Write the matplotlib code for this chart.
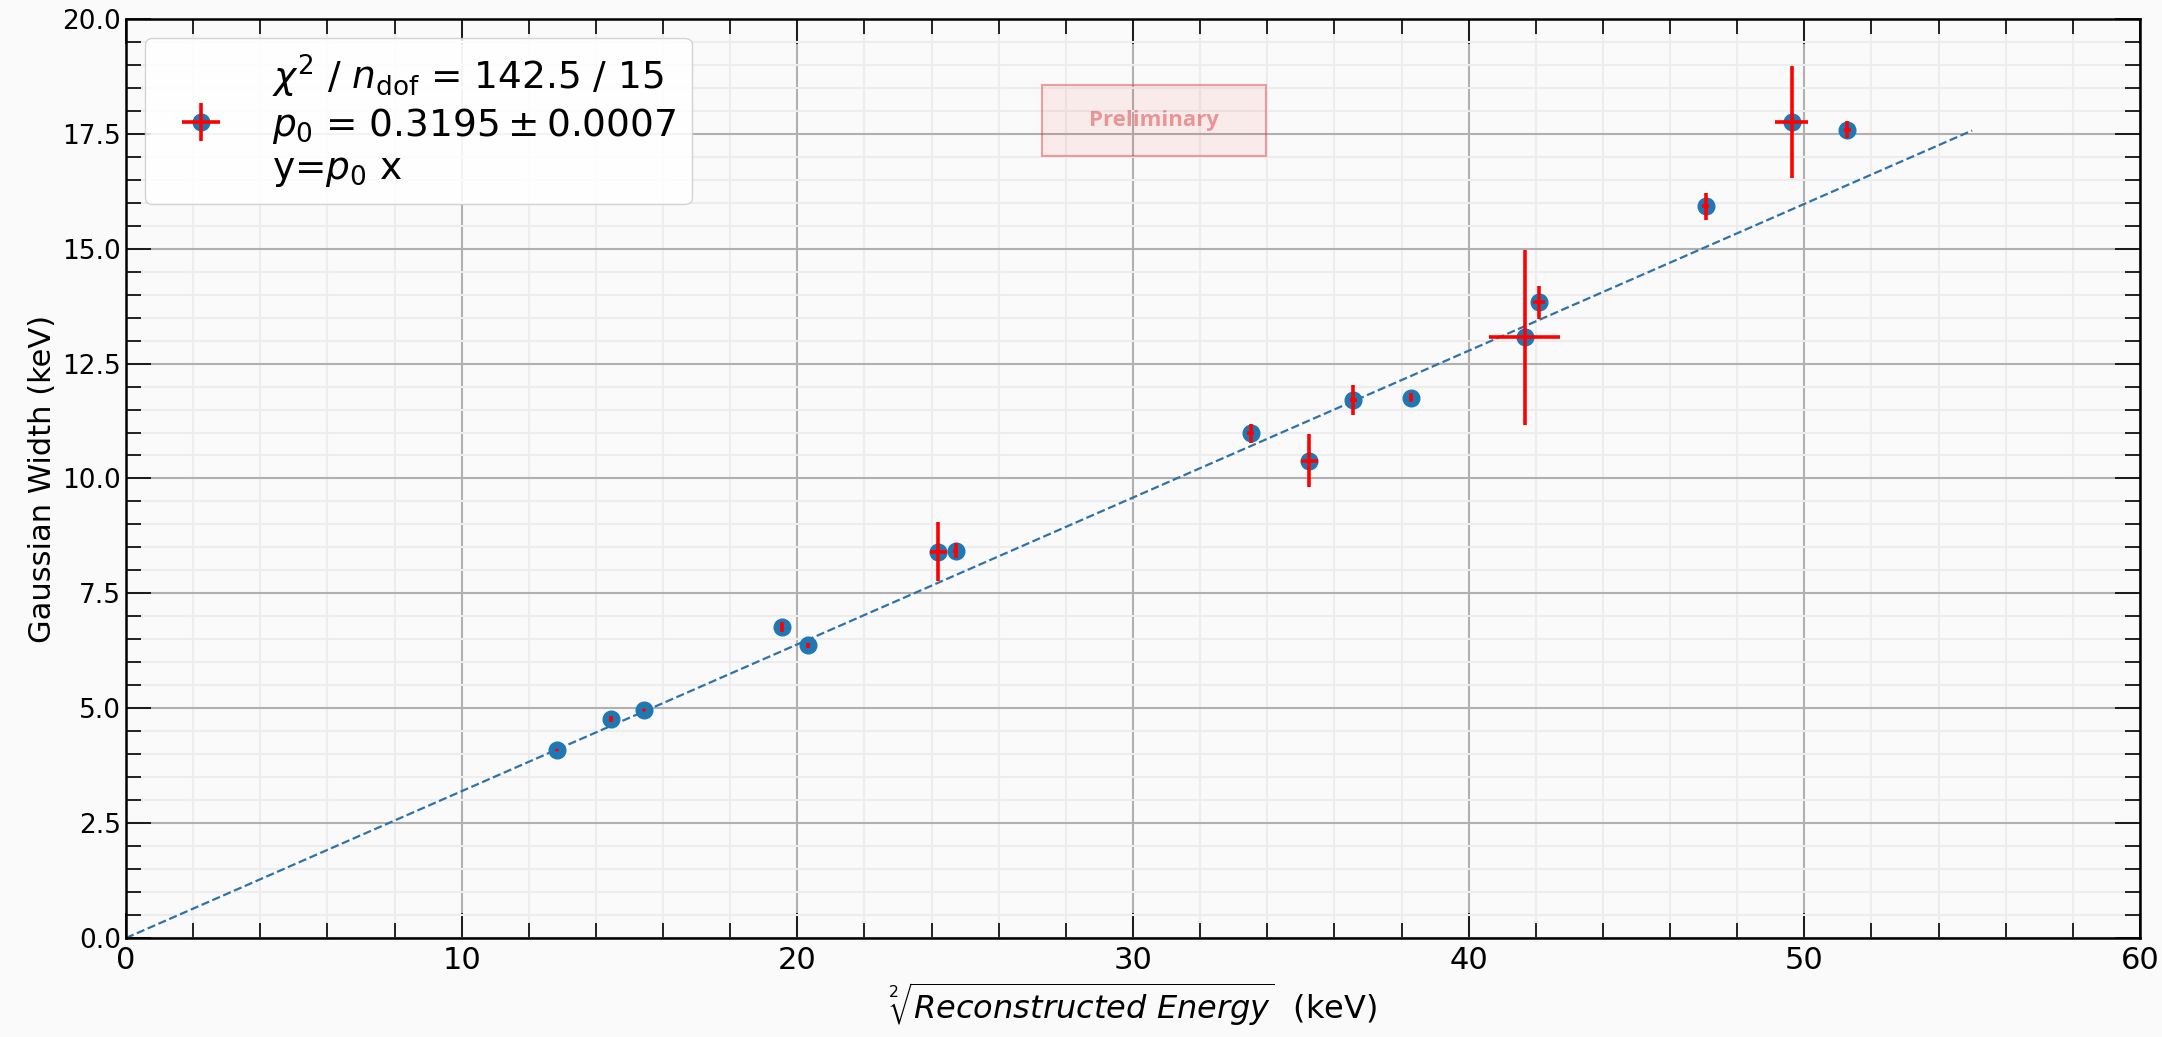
import numpy as np
import matplotlib
matplotlib.use("Agg")
import matplotlib.pyplot as plt
from matplotlib.patches import Rectangle
from matplotlib.legend_handler import HandlerTuple
from matplotlib.ticker import MultipleLocator

# peak positions and fitted gaussian widths
energy = [12.83, 14.45, 15.43, 19.53, 20.33, 24.20, 24.72, 33.51,
          35.25, 36.56, 38.28, 41.67, 42.10, 47.06, 49.62, 51.28]
energy_err = [0.02, 0.05, 0.02, 0.05, 0.05, 0.25, 0.08, 0.10,
              0.25, 0.10, 0.05, 1.05, 0.18, 0.10, 0.50, 0.10]
width = [4.09, 4.76, 4.96, 6.77, 6.37, 8.41, 8.43, 10.98,
         10.39, 11.71, 11.76, 13.07, 13.83, 15.92, 17.76, 17.59]
width_err = [0.02, 0.06, 0.03, 0.11, 0.05, 0.64, 0.16, 0.21,
             0.57, 0.32, 0.10, 1.90, 0.36, 0.29, 1.21, 0.19]

# linear fit result
p0 = 0.3195
p0_err = 0.0007
chi2 = 142.5
ndof = 15
fit_xmax = 55

bg = "#fafafa"
fig = plt.figure(figsize=(21.62, 10.37), dpi=100, facecolor=bg)
ax = fig.add_axes([0.0583, 0.0955, 0.9315, 0.8862], facecolor=bg)

pts, = ax.plot(energy, width, "o", color="tab:blue", markersize=12, zorder=3)
eb = ax.errorbar(energy, width, xerr=energy_err, yerr=width_err, fmt="none",
                 ecolor="red", elinewidth=2.6, zorder=4)

xf = np.linspace(0, fit_xmax, 200)
ax.plot(xf, p0 * xf, "--", color="#2f72a8", lw=1.6, zorder=2)

ax.set_xlim(0, 60)
ax.set_ylim(0, 20)
ax.xaxis.set_major_locator(MultipleLocator(10))
ax.xaxis.set_minor_locator(MultipleLocator(2))
ax.yaxis.set_major_locator(MultipleLocator(2.5))
ax.yaxis.set_minor_locator(MultipleLocator(0.5))

ax.grid(which="major", color="#b0b0b0", lw=1.5, zorder=0)
ax.grid(which="minor", color="#ededed", lw=1.5, zorder=0)
ax.set_axisbelow(True)

ax.tick_params(which="both", direction="in", top=True, right=True, width=1.2)
ax.tick_params(which="major", length=18)
ax.tick_params(which="minor", length=11)
ax.tick_params(axis="x", labelsize=22, pad=6)
ax.tick_params(axis="y", labelsize=19)
for sp in ax.spines.values():
    sp.set_linewidth(1.8)

ax.set_xlabel(r"$\sqrt[2]{Reconstructed\ Energy}$  (keV)", fontsize=23)
ax.set_ylabel("Gaussian Width (keV)", fontsize=22)

label = (r"$\chi^2$ / $n_{\mathrm{dof}}$ = " + f"{chi2} / {ndof}\n"
         + r"$p_0$ = $" + f"{p0:.4f}" + r" \pm " + f"{p0_err:.4f}$\n"
         + r"y=$p_0$ x")
ax.legend([(pts, eb)], [label], handler_map={tuple: HandlerTuple(ndivide=1)},
          loc="upper left", fontsize=27, framealpha=0.85, edgecolor="#cccccc",
          handlelength=2.2)

# preliminary stamp
ax.add_patch(Rectangle((0.455, 0.851), 0.111, 0.077, transform=ax.transAxes,
                       facecolor=(1, 0, 0, 0.06), edgecolor=(0.9, 0.2, 0.2, 0.45),
                       lw=1.5, zorder=5))
ax.text(0.5105, 0.889, "Preliminary", transform=ax.transAxes, ha="center",
        va="center", fontsize=16, fontweight="bold", family="Open Sans",
        color=(0.85, 0.25, 0.25, 0.5), zorder=6)

fig.savefig("out.png", dpi=100, facecolor=bg)
